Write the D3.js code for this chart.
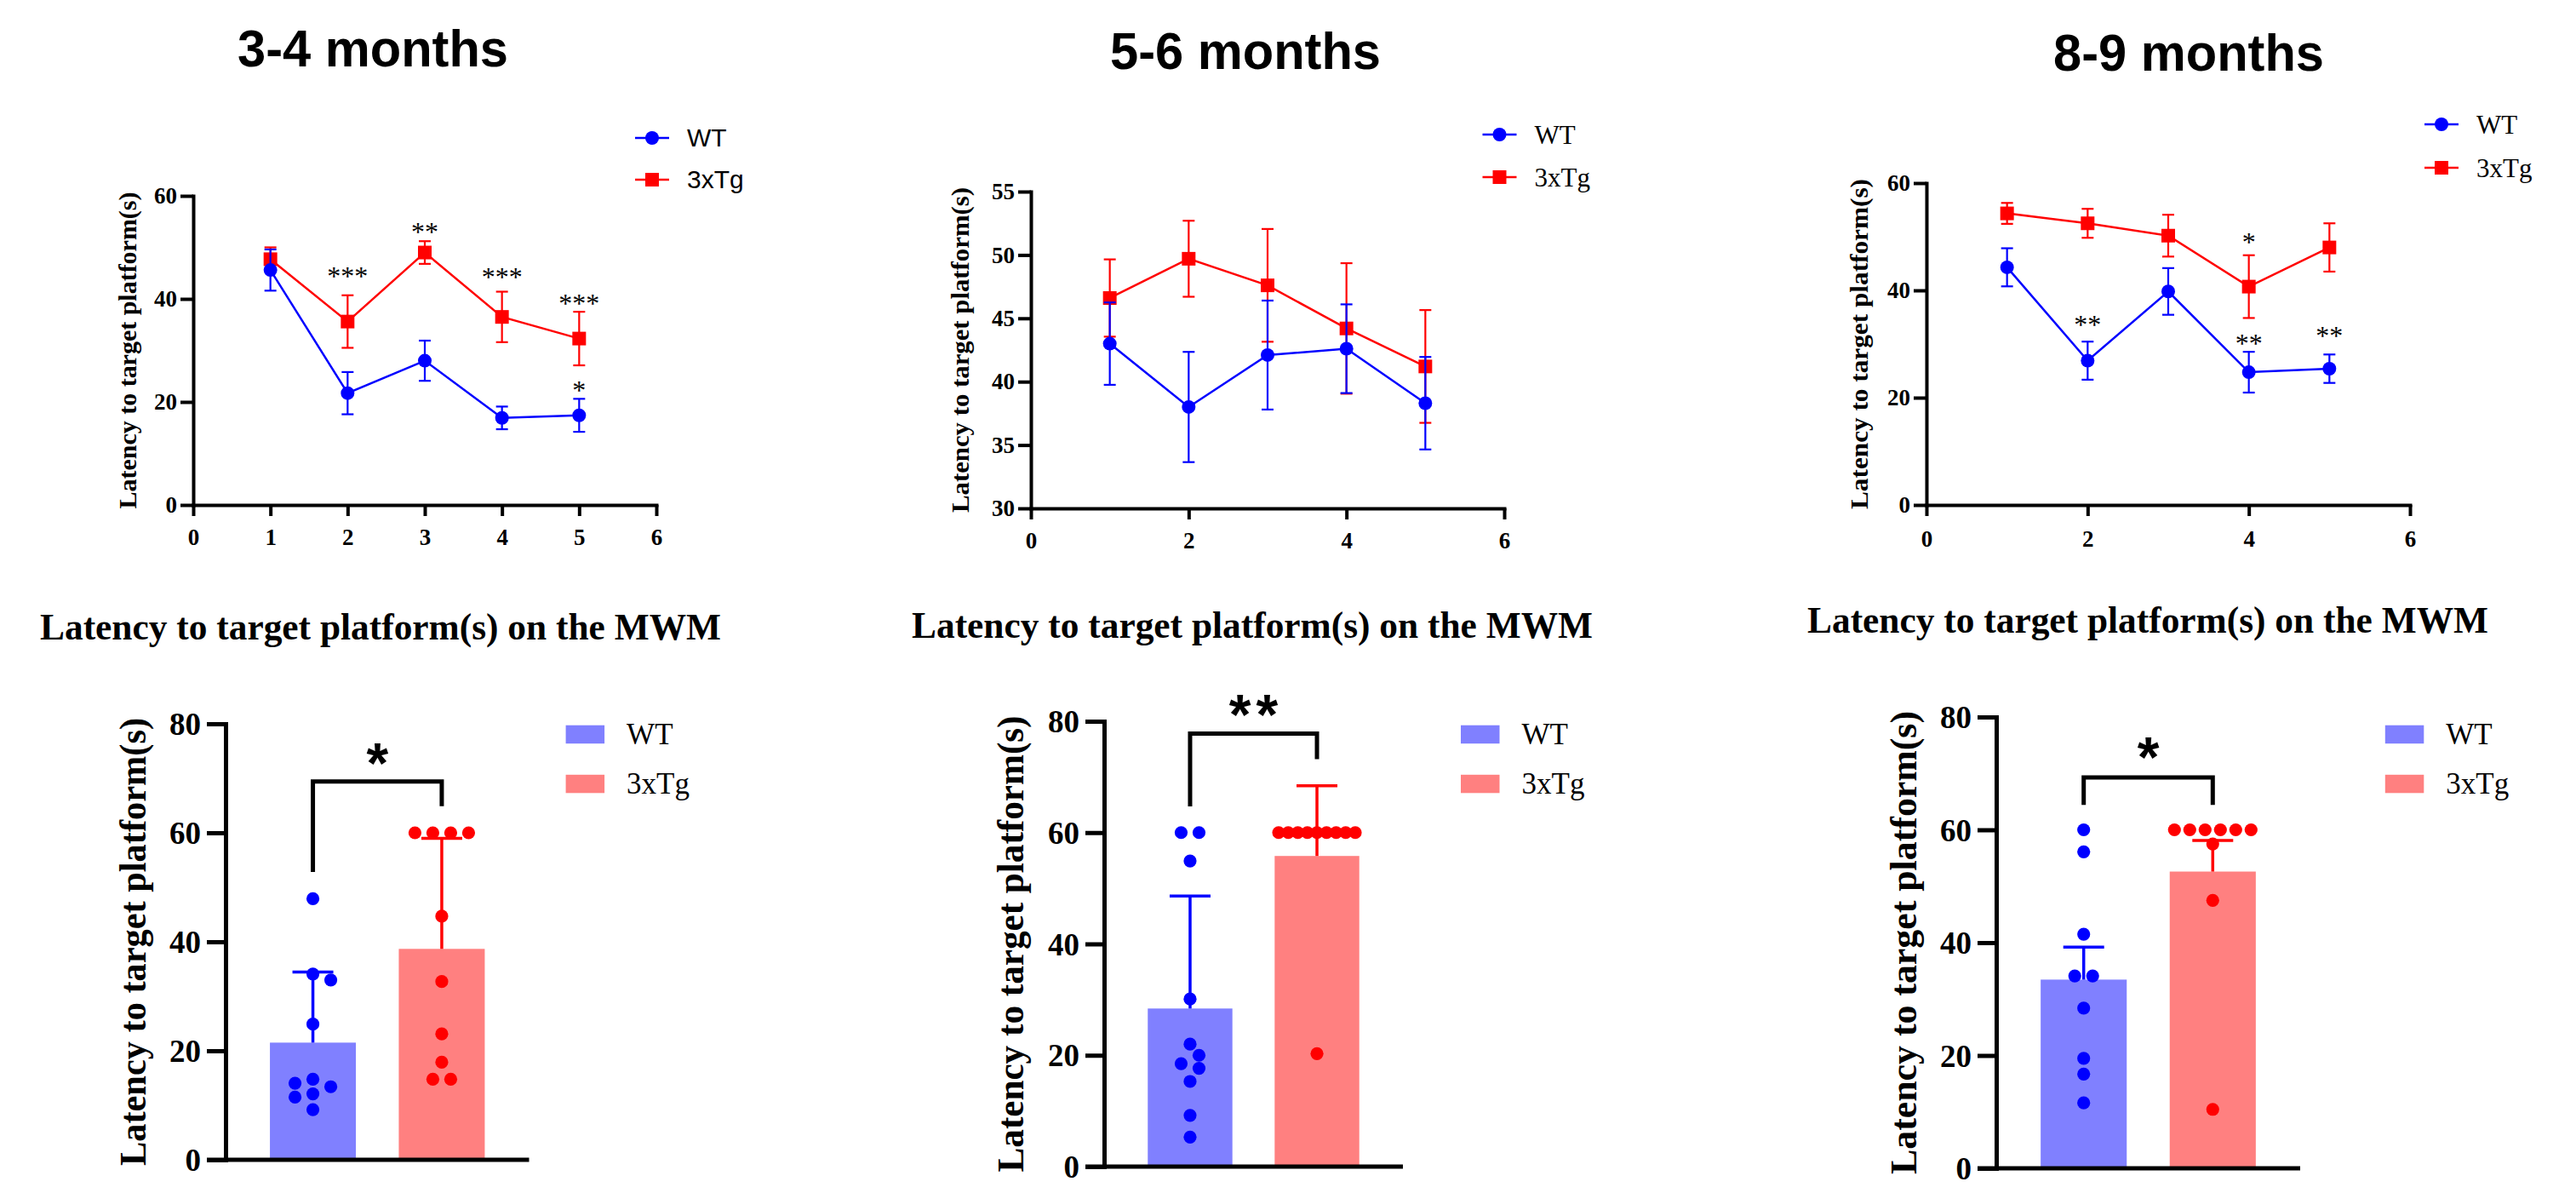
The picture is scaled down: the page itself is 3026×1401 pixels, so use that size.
<!DOCTYPE html>
<html><head><meta charset="utf-8">
<script src="https://cdn.jsdelivr.net/npm/d3@7"></script>
<style>html,body{margin:0;padding:0;background:#fff;} svg{display:block;}</style>
</head><body>
<svg id="chart" width="3026" height="1401"></svg>
<script>
// ================= DATA =================
const panelTitles = ["3-4 months", "5-6 months", "8-9 months"];
const barTitle = "Latency to target platform(s) on the MWM";
const yLabel = "Latency to target platform(s)";
const seriesNames = ["WT", "3xTg"];
const days = [1, 2, 3, 4, 5];

// line charts: mean and error (SEM) per training day
const wt34Mean = [45.6, 21.7, 28.0, 16.9, 17.4];
const wt34Err  = [4.0, 4.1, 3.9, 2.2, 3.2];
const tg34Mean = [47.7, 35.6, 49.0, 36.5, 32.3];
const tg34Err  = [2.3, 5.1, 2.2, 4.9, 5.2];

const wt56Mean = [43.0, 38.0, 42.1, 42.6, 38.3];
const wt56Err  = [3.25, 4.35, 4.3, 3.5, 3.65];
const tg56Mean = [46.6, 49.7, 47.6, 44.2, 41.2];
const tg56Err  = [3.05, 3.0, 4.45, 5.15, 4.45];

const wt89Mean = [44.3, 26.9, 39.8, 24.75, 25.4];
const wt89Err  = [3.55, 3.55, 4.35, 3.8, 2.65];
const tg89Mean = [54.35, 52.5, 50.2, 40.7, 48.0];
const tg89Err  = [1.95, 2.7, 3.9, 5.85, 4.5];

const lineYTicks34 = [0, 20, 40, 60];
const lineYTicks56 = [30, 35, 40, 45, 50, 55];
const lineYTicks89 = [0, 20, 40, 60];
const lineXTicks34 = [0, 1, 2, 3, 4, 5, 6];
const lineXTicks56 = [0, 2, 4, 6];
const lineXTicks89 = [0, 2, 4, 6];

// significance marks on line charts (day, value level of the mark, label)
const stars34 = [
  {day: 2, level: 45.2, text: "***"},
  {day: 3, level: 53.7, text: "**"},
  {day: 4, level: 45.0, text: "***"},
  {day: 5, level: 39.9, text: "***"},
  {day: 5, level: 23.0, text: "*"}
];
const stars56 = [];
const stars89 = [
  {day: 2, level: 34.3, text: "**"},
  {day: 4, level: 49.7, text: "*"},
  {day: 4, level: 30.9, text: "**"},
  {day: 5, level: 32.3, text: "**"}
];

// bar charts: individual animals
const barWT34 = [47.9, 34.1, 33.0, 24.9, 14.8, 14.05, 13.4, 12.1, 11.5, 9.2];
const barTg34 = [60, 60, 60, 60, 44.7, 32.7, 23.1, 17.9, 14.8, 14.8];
const barWT56 = [60, 60, 54.9, 30.1, 22.0, 20.0, 18.5, 17.65, 15.3, 9.2, 5.3];
const barTg56 = [60, 60, 60, 60, 60, 60, 60, 60, 60, 20.3];
const barWT89 = [60, 56.1, 41.5, 34.1, 34.1, 28.4, 19.5, 16.7, 11.6];
const barTg89 = [60, 60, 60, 60, 60, 60, 57.5, 47.5, 10.45];
// bar heights and upward error
const barMean34 = [21.5, 38.7];
const barErr34  = [12.95, 20.3];
const barMean56 = [28.4, 55.8];
const barErr56  = [20.2, 12.6];
const barMean89 = [33.45, 52.6];
const barErr89  = [5.75, 5.5];
const barYTicks = [0, 20, 40, 60, 80];
// comparison brackets (values in data units)
const bracket34 = {top: 69.4, leftEnd: 52.8, rightEnd: 64.9, mark: 75.2, text: "*"};
const bracket56 = {top: 77.8, leftEnd: 64.7, rightEnd: 73.2, mark: 83.6, text: "**"};
const bracket89 = {top: 69.3, leftEnd: 64.4, rightEnd: 64.4, mark: 75.2, text: "*"};

// ================= STYLE / LAYOUT =================
const BLUE = "#0000FF", RED = "#FF0000";
const BLUE_FILL = "#8080FF", RED_FILL = "#FF8080";
const SERIF = "'Liberation Serif','Times New Roman',serif";
const SANS = "'Liberation Sans',Arial,sans-serif";

const svg = d3.select("#chart");
svg.append("rect").attr("width", 3026).attr("height", 1401).attr("fill", "#fff");

const linePanels = [
  {title: panelTitles[0], tx: 438, ty: 78, xr: [227, 771], yr: [593, 230], yDom: [0, 60],
   yTicks: lineYTicks34, xTicks: lineXTicks34,
   wt: [wt34Mean, wt34Err], tg: [tg34Mean, tg34Err], stars: stars34,
   ylabX: 160, ylabLen: 372, leg: {x: 746, y: 162, dy: 49, font: SANS, fs: 30}, xLabBase: 47},
  {title: panelTitles[1], tx: 1463, ty: 80.5, xr: [1211, 1767], yr: [597, 225], yDom: [30, 55],
   yTicks: lineYTicks56, xTicks: lineXTicks56,
   wt: [wt56Mean, wt56Err], tg: [tg56Mean, tg56Err], stars: stars56,
   ylabX: 1137.5, ylabLen: 382, leg: {x: 1741.5, y: 158, dy: 50, font: SERIF, fs: 31}, xLabBase: 47},
  {title: panelTitles[2], tx: 2571, ty: 82.6, xr: [2263, 2831], yr: [593, 215], yDom: [0, 60],
   yTicks: lineYTicks89, xTicks: lineXTicks89,
   wt: [wt89Mean, wt89Err], tg: [tg89Mean, tg89Err], stars: stars89,
   ylabX: 2193.5, ylabLen: 388, leg: {x: 2848, y: 146, dy: 51, font: SERIF, fs: 31}, xLabBase: 49}
];

function styleAxis(g, sw, fs, family) {
  g.select(".domain").attr("stroke", "#000").attr("stroke-width", sw).attr("stroke-linecap", "square");
  g.selectAll(".tick line").attr("stroke", "#000").attr("stroke-width", sw);
  g.selectAll(".tick text").attr("fill", "#000").attr("font-family", family)
    .attr("font-weight", "bold").attr("font-size", fs);
}

linePanels.forEach(p => {
  const g = svg.append("g");
  const x = d3.scaleLinear().domain([0, 6]).range(p.xr);
  const y = d3.scaleLinear().domain(p.yDom).range(p.yr);

  // title
  g.append("text").attr("x", p.tx).attr("y", p.ty).attr("text-anchor", "middle")
    .attr("font-family", SANS).attr("font-weight", "bold").attr("font-size", 62)
    .attr("textLength", 318).attr("lengthAdjust", "spacingAndGlyphs").text(p.title);

  // axes
  const yAx = g.append("g").attr("transform", `translate(${p.xr[0]},0)`)
    .call(d3.axisLeft(y).tickValues(p.yTicks).tickFormat(d3.format("d"))
      .tickSize(15).tickSizeOuter(0).tickPadding(4));
  styleAxis(yAx, 4, 27, SERIF);
  const xAx = g.append("g").attr("transform", `translate(0,${p.yr[0]})`)
    .call(d3.axisBottom(x).tickValues(p.xTicks).tickFormat(d3.format("d"))
      .tickSize(13).tickSizeOuter(0).tickPadding(p.xLabBase - 13 - 19));
  styleAxis(xAx, 4, 27, SERIF);

  // y label
  g.append("text").attr("transform", `translate(${p.ylabX},${(p.yr[0] + p.yr[1]) / 2}) rotate(-90)`)
    .attr("text-anchor", "middle").attr("font-family", SERIF).attr("font-weight", "bold")
    .attr("font-size", 30).attr("textLength", p.ylabLen).attr("lengthAdjust", "spacingAndGlyphs")
    .text(yLabel);

  const series = [
    {name: seriesNames[1], mean: p.tg[0], err: p.tg[1], color: RED, shape: "square"},
    {name: seriesNames[0], mean: p.wt[0], err: p.wt[1], color: BLUE, shape: "circle"}
  ];
  const line = d3.line().x((d, i) => x(days[i])).y(d => y(d));
  series.forEach(s => {
    const sg = g.append("g");
    sg.append("path").datum(s.mean).attr("d", line).attr("fill", "none")
      .attr("stroke", s.color).attr("stroke-width", 2.5);
    const eb = sg.selectAll(".eb").data(s.mean).join("g");
    eb.append("line").attr("x1", (d, i) => x(days[i])).attr("x2", (d, i) => x(days[i]))
      .attr("y1", (d, i) => y(d - s.err[i])).attr("y2", (d, i) => y(d + s.err[i]))
      .attr("stroke", s.color).attr("stroke-width", 2.2);
    [-1, 1].forEach(sign => {
      eb.append("line").attr("x1", (d, i) => x(days[i]) - 7).attr("x2", (d, i) => x(days[i]) + 7)
        .attr("y1", (d, i) => y(d + sign * s.err[i])).attr("y2", (d, i) => y(d + sign * s.err[i]))
        .attr("stroke", s.color).attr("stroke-width", 2.2);
    });
    const sym = d3.symbol().type(s.shape === "circle" ? d3.symbolCircle : d3.symbolSquare)
      .size(s.shape === "circle" ? Math.PI * 8 * 8 : 16 * 16);
    sg.selectAll(".mk").data(s.mean).join("path").attr("d", sym)
      .attr("transform", (d, i) => `translate(${x(days[i])},${y(d)})`).attr("fill", s.color);
  });

  // stars
  g.selectAll(".star").data(p.stars).join("text")
    .attr("x", d => x(d.day)).attr("y", d => y(d.level) + 0.48 * 32)
    .attr("text-anchor", "middle").attr("font-family", SERIF).attr("font-size", 32)
    .attr("fill", "#000").text(d => d.text);

  // legend
  const legItems = [
    {name: seriesNames[0], color: BLUE, shape: d3.symbolCircle, size: Math.PI * 64},
    {name: seriesNames[1], color: RED, shape: d3.symbolSquare, size: 256}
  ];
  legItems.forEach((it, k) => {
    const ly = p.leg.y + k * p.leg.dy;
    g.append("line").attr("x1", p.leg.x).attr("x2", p.leg.x + 40).attr("y1", ly).attr("y2", ly)
      .attr("stroke", it.color).attr("stroke-width", 2.5);
    g.append("path").attr("d", d3.symbol().type(it.shape).size(it.size)())
      .attr("transform", `translate(${p.leg.x + 20},${ly})`).attr("fill", it.color);
    g.append("text").attr("x", p.leg.x + 61).attr("y", ly + p.leg.fs * 0.34)
      .attr("font-family", p.leg.font).attr("font-size", p.leg.fs).attr("fill", "#000").text(it.name);
  });
});

// ================= BAR CHARTS =================
const barPanels = [
  {sub: 447, subY: 751, ax: 265, xEnd: 621.5, yr: [1362, 850], ylabX: 170.5, ylabLen: 526,
   legX: 664.6, dots: [barWT34, barTg34], mean: barMean34, err: barErr34, br: bracket34},
  {sub: 1471, subY: 749, ax: 1297, xEnd: 1648, yr: [1370, 847], ylabX: 1202, ylabLen: 536,
   legX: 1716, dots: [barWT56, barTg56], mean: barMean56, err: barErr56, br: bracket56},
  {sub: 2523, subY: 743, ax: 2345, xEnd: 2702, yr: [1372, 842], ylabX: 2250.5, ylabLen: 544,
   legX: 2801.8, dots: [barWT89, barTg89], mean: barMean89, err: barErr89, br: bracket89}
];

function swarm(values, y, cx, h, W, dmin) {
  const sorted = values.slice().sort((a, b) => b - a);
  const placed = [];
  let left = 0, right = 0, i = 0;
  while (i < sorted.length) {
    let j = i;
    while (j < sorted.length && sorted[j] === sorted[i]) j++;
    const n = j - i, v = sorted[i], py = y(v);
    if (n > 1) {
      const sp = Math.min(2 * h, 2 * W / (n - 1));
      for (let k = 0; k < n; k++) placed.push({v, x: cx + (k - (n - 1) / 2) * sp, y: py});
    } else {
      let chosen = null;
      for (let m = 0; m <= 12 && chosen === null; m++) {
        const cands = m === 0 ? [0] : (right <= left ? [m, -m] : [-m, m]);
        for (const c of cands) {
          const px = cx + c * h;
          if (placed.every(q => Math.hypot(q.x - px, q.y - py) >= dmin)) { chosen = c; break; }
        }
      }
      if (chosen === null) chosen = 0;
      if (chosen > 0) right++; else if (chosen < 0) left++;
      placed.push({v, x: cx + chosen * h, y: py});
    }
    i = j;
  }
  return placed;
}

barPanels.forEach(p => {
  const g = svg.append("g");
  const x = d3.scaleBand().domain(seriesNames).range([p.ax, p.xEnd]).paddingInner(0.333).paddingOuter(0.344);
  const y = d3.scaleLinear().domain([0, 80]).range(p.yr);
  const fills = [BLUE_FILL, RED_FILL], cols = [BLUE, RED];

  g.append("text").attr("x", p.sub).attr("y", p.subY).attr("text-anchor", "middle")
    .attr("font-family", SERIF).attr("font-weight", "bold").attr("font-size", 45)
    .attr("textLength", 800).attr("lengthAdjust", "spacingAndGlyphs").text(barTitle);

  // bars
  g.selectAll(".bar").data(p.mean).join("rect")
    .attr("x", (d, i) => x(seriesNames[i])).attr("width", x.bandwidth())
    .attr("y", d => y(d)).attr("height", d => y(0) - y(d)).attr("fill", (d, i) => fills[i]);

  // error bars (upward)
  p.mean.forEach((m, i) => {
    const cx = x(seriesNames[i]) + x.bandwidth() / 2;
    g.append("line").attr("x1", cx).attr("x2", cx).attr("y1", y(m)).attr("y2", y(m + p.err[i]))
      .attr("stroke", cols[i]).attr("stroke-width", 3.5);
    g.append("line").attr("x1", cx - 24).attr("x2", cx + 24)
      .attr("y1", y(m + p.err[i])).attr("y2", y(m + p.err[i]))
      .attr("stroke", cols[i]).attr("stroke-width", 3.5);
  });

  // dots
  p.dots.forEach((vals, i) => {
    const cx = x(seriesNames[i]) + x.bandwidth() / 2;
    const pts = swarm(vals, y, cx, 10.5, 45, 15);
    g.selectAll(".dot" + i).data(pts).join("circle")
      .attr("cx", d => d.x).attr("cy", d => d.y).attr("r", 7.6).attr("fill", cols[i]);
  });

  // axes
  const yAx = g.append("g").attr("transform", `translate(${p.ax},0)`)
    .call(d3.axisLeft(y).tickValues(barYTicks).tickFormat(d3.format("d"))
      .tickSize(22).tickSizeOuter(0).tickPadding(7));
  styleAxis(yAx, 5, 37, SERIF);
  yAx.selectAll(".tick text").attr("dy", "0.34em");
  g.append("line").attr("x1", p.ax - 22).attr("x2", x.range()[1]).attr("y1", y(0)).attr("y2", y(0))
    .attr("stroke", "#000").attr("stroke-width", 5);

  // y label
  g.append("text").attr("transform", `translate(${p.ylabX},${(p.yr[0] + p.yr[1]) / 2}) rotate(-90)`)
    .attr("text-anchor", "middle").attr("font-family", SERIF).attr("font-weight", "bold")
    .attr("font-size", 44).attr("textLength", p.ylabLen).attr("lengthAdjust", "spacingAndGlyphs")
    .text(yLabel);

  // bracket
  const lx = x(seriesNames[0]) + x.bandwidth() / 2, rx = x(seriesNames[1]) + x.bandwidth() / 2;
  g.append("path")
    .attr("d", `M${lx},${y(p.br.leftEnd)}V${y(p.br.top)}H${rx}V${y(p.br.rightEnd)}`)
    .attr("fill", "none").attr("stroke", "#000").attr("stroke-width", 5).attr("stroke-linejoin", "miter");
  g.append("text").attr("x", (lx + rx) / 2 + (p.br.text.length > 1 ? 3 : 0)).attr("y", y(p.br.mark) + 0.58 * 66)
    .attr("text-anchor", "middle").attr("font-family", SANS).attr("font-weight", "bold")
    .attr("font-size", 66).attr("letter-spacing", p.br.text.length > 1 ? 6 : 0).text(p.br.text);

  // legend
  [0, 1].forEach(k => {
    const top = 851.7 + k * 58.1;
    g.append("rect").attr("x", p.legX).attr("y", top).attr("width", 45.5).attr("height", 21.5)
      .attr("fill", fills[k]);
    g.append("text").attr("x", p.legX + 71.5).attr("y", top + 22)
      .attr("font-family", SERIF).attr("font-size", 35).attr("fill", "#000").text(seriesNames[k]);
  });
});
</script>
</body></html>
